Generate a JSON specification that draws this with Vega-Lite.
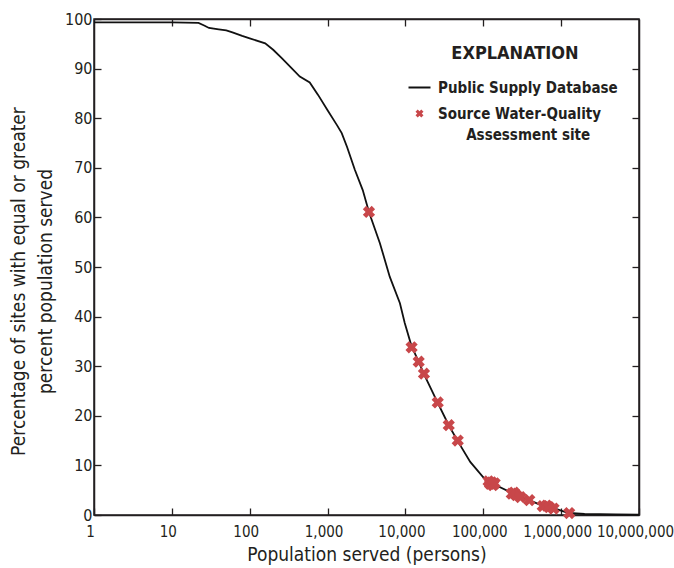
{
  "$schema": "https://vega.github.io/schema/vega-lite/v6.json",
  "width": 545,
  "height": 496,
  "autosize": "none",
  "padding": {"left": 94, "top": 19, "right": 35, "bottom": 53},
  "background": "white",
  "config": {
    "view": {"stroke": "#231f20", "strokeWidth": 1.5},
    "font": "DejaVu Sans Condensed",
    "style": {"guide-label": {"lineHeight": 21}},
    "axis": {
      "labelFont": "DejaVu Sans Condensed",
      "titleFont": "DejaVu Sans Condensed",
      "labelFontSize": 16,
      "titleFontSize": 19,
      "titleFontWeight": "normal",
      "labelColor": "#231f20",
      "titleColor": "#231f20",
      "domainColor": "#231f20",
      "domainWidth": 1.5,
      "tickColor": "#231f20",
      "tickWidth": 1.3,
      "grid": false
    }
  },
  "datasets": {
    "curve": [
      {"pop": 1, "pct": 99.3}, {"pop": 10, "pct": 99.3}, {"pop": 22, "pct": 99.2}, {"pop": 26, "pct": 98.7},
      {"pop": 30, "pct": 98.2}, {"pop": 40, "pct": 97.9}, {"pop": 50, "pct": 97.7}, {"pop": 60, "pct": 97.3},
      {"pop": 80, "pct": 96.6}, {"pop": 100, "pct": 96.1}, {"pop": 158, "pct": 95.1}, {"pop": 200, "pct": 93.8},
      {"pop": 258, "pct": 92.1}, {"pop": 330, "pct": 90.4}, {"pop": 440, "pct": 88.4}, {"pop": 590, "pct": 87.2},
      {"pop": 755, "pct": 84.7}, {"pop": 1000, "pct": 81.6}, {"pop": 1320, "pct": 78.6}, {"pop": 1520, "pct": 77.0},
      {"pop": 1780, "pct": 74.2}, {"pop": 2240, "pct": 69.6}, {"pop": 2830, "pct": 65.5}, {"pop": 3400, "pct": 61.1},
      {"pop": 4700, "pct": 54.8}, {"pop": 6300, "pct": 48.0}, {"pop": 8500, "pct": 42.7}, {"pop": 9800, "pct": 38.7},
      {"pop": 12000, "pct": 34.0}, {"pop": 14800, "pct": 30.9},
      {"pop": 17300, "pct": 28.4}, {"pop": 26000, "pct": 22.6}, {"pop": 36000, "pct": 18.1}, {"pop": 47000, "pct": 14.9},
      {"pop": 68000, "pct": 10.7}, {"pop": 100000, "pct": 7.6}, {"pop": 121000, "pct": 6.6}, {"pop": 235000, "pct": 4.4},
      {"pop": 310000, "pct": 3.6}, {"pop": 390000, "pct": 3.0}, {"pop": 590000, "pct": 1.8}, {"pop": 800000, "pct": 1.4},
      {"pop": 1000000, "pct": 0.9}, {"pop": 1250000, "pct": 0.4}, {"pop": 2000000, "pct": 0.2}, {"pop": 5000000, "pct": 0.1},
      {"pop": 10000000, "pct": 0.05}
    ],
    "sites": [
      {"pop": 3400, "pct": 61.1, "series": "Source Water-Quality Assessment site"},
      {"pop": 12000, "pct": 33.8, "series": "Source Water-Quality Assessment site"},
      {"pop": 14800, "pct": 30.9, "series": "Source Water-Quality Assessment site"},
      {"pop": 17300, "pct": 28.5, "series": "Source Water-Quality Assessment site"},
      {"pop": 26000, "pct": 22.7, "series": "Source Water-Quality Assessment site"},
      {"pop": 36000, "pct": 18.1, "series": "Source Water-Quality Assessment site"},
      {"pop": 47000, "pct": 15.0, "series": "Source Water-Quality Assessment site"},
      {"pop": 117000, "pct": 6.8, "series": "Source Water-Quality Assessment site"},
      {"pop": 122000, "pct": 6.3, "series": "Source Water-Quality Assessment site"},
      {"pop": 128000, "pct": 6.6, "series": "Source Water-Quality Assessment site"},
      {"pop": 133000, "pct": 6.0, "series": "Source Water-Quality Assessment site"},
      {"pop": 140000, "pct": 6.4, "series": "Source Water-Quality Assessment site"},
      {"pop": 232000, "pct": 4.3, "series": "Source Water-Quality Assessment site"},
      {"pop": 248000, "pct": 4.5, "series": "Source Water-Quality Assessment site"},
      {"pop": 265000, "pct": 4.0, "series": "Source Water-Quality Assessment site"},
      {"pop": 300000, "pct": 3.6, "series": "Source Water-Quality Assessment site"},
      {"pop": 390000, "pct": 3.0, "series": "Source Water-Quality Assessment site"},
      {"pop": 580000, "pct": 1.8, "series": "Source Water-Quality Assessment site"},
      {"pop": 650000, "pct": 1.9, "series": "Source Water-Quality Assessment site"},
      {"pop": 700000, "pct": 1.6, "series": "Source Water-Quality Assessment site"},
      {"pop": 800000, "pct": 1.3, "series": "Source Water-Quality Assessment site"},
      {"pop": 1270000, "pct": 0.4, "series": "Source Water-Quality Assessment site"}
    ]
  },
  "layer": [
    {
      "data": {"name": "curve"},
      "mark": {"type": "line", "color": "#111111", "strokeWidth": 1.8},
      "encoding": {
        "x": {
          "field": "pop", "type": "quantitative",
          "scale": {"type": "log", "domain": [1, 10000000]},
          "axis": {
            "orient": "bottom",
            "title": "Population served (persons)",
            "values": [1, 10, 100, 1000, 10000, 100000, 1000000, 10000000],
            "format": ",",
            "labelFontSize": 15,
            "labelOffset": -4,
            "tickSize": -7,
            "labelPadding": 16,
            "titlePadding": 6,
            "labelFlush": false,
            "labelOverlap": false
          }
        },
        "y": {
          "field": "pct", "type": "quantitative",
          "scale": {"domain": [0, 100], "nice": false, "zero": false},
          "axis": {
            "orient": "left",
            "title": ["Percentage of sites with equal or greater", "percent population served"],
            "values": [0, 10, 20, 30, 40, 50, 60, 70, 80, 90, 100],
            "tickSize": -7,
            "labelPadding": 9,
            "titleX": -76,
            "titleY": 262,
            "titleAngle": -90,
            "titleBaseline": "middle",
            "titleLineHeight": 27,
            "labelFlush": false
          }
        }
      }
    },
    {
      "data": {"name": "sites"},
      "mark": {"type": "point", "filled": true, "size": 150, "opacity": 1},
      "encoding": {
        "x": {
          "field": "pop", "type": "quantitative",
          "axis": {
            "orient": "top", "title": null, "labels": false,
            "values": [10, 100, 1000, 10000, 100000, 1000000],
            "tickSize": -7
          }
        },
        "y": {
          "field": "pct", "type": "quantitative",
          "axis": {
            "orient": "right", "title": null, "labels": false,
            "values": [10, 20, 30, 40, 50, 60, 70, 80, 90],
            "tickSize": -7
          }
        },
        "color": {
          "field": "series", "type": "nominal",
          "scale": {
            "domain": ["Public Supply Database", "Source Water-Quality Assessment site"],
            "range": ["#111111", "#c8474a"]
          },
          "legend": {
            "orient": "none",
            "legendX": 318,
            "legendY": 26,
            "title": "EXPLANATION",
            "titleFont": "DejaVu Sans Condensed",
            "titleFontSize": 18,
            "titleFontWeight": "bold",
            "titleColor": "#231f20",
            "titleAnchor": "middle",
            "titleAlign": "center",
            "titlePadding": 17,
            "labelFont": "DejaVu Sans Condensed",
            "labelFontSize": 15,
            "labelFontWeight": "bold",
            "labelColor": "#231f20",
            "labelOffset": 11,
            "labelLimit": 300,
            "symbolSize": 64,
            "symbolStrokeWidth": 0,
            "rowPadding": 10,
            "labelExpr": "datum.label == 'Source Water-Quality Assessment site' ? ['Source Water-Quality', '\u200b\u00a0\u00a0\u00a0\u00a0\u00a0\u00a0Assessment site'] : datum.label"
          }
        },
        "shape": {
          "field": "series", "type": "nominal",
          "scale": {
            "domain": ["Public Supply Database", "Source Water-Quality Assessment site"],
            "range": [
              "M-2.75,-0.25L2.75,-0.25L2.75,0.25L-2.75,0.25Z",
              "M-1,-0.45L-0.45,-1L0,-0.55L0.45,-1L1,-0.45L0.55,0L1,0.45L0.45,1L0,0.55L-0.45,1L-1,0.45L-0.55,0Z"
            ]
          }
        }
      }
    }
  ],
  "resolve": {"axis": {"x": "independent", "y": "independent"}}
}
